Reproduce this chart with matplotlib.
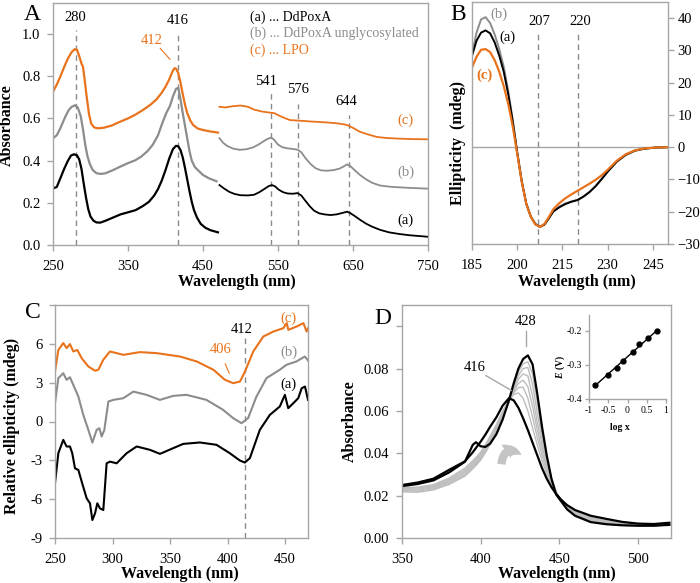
import numpy as np
import matplotlib
matplotlib.use("Agg")
import matplotlib.pyplot as plt
from matplotlib.patches import FancyArrowPatch

plt.rcParams['font.family'] = ['Liberation Serif', 'DejaVu Serif']
plt.rcParams['font.size'] = 10.5
plt.rcParams['mathtext.fontset'] = 'custom'
plt.rcParams['mathtext.rm'] = 'Liberation Serif'
plt.rcParams['mathtext.it'] = 'Liberation Serif:italic:bold'

ORANGE = '#E8731C'
GRAY = '#8C8C8C'
LIGHT = '#BDBDBD'
FRAME = '#A6A6A6'
DASH = '#8A8A8A'

# ---------------- panel A : UV-vis spectra ----------------
a_uv_wl_a = [250, 255, 260, 265, 270, 274, 278, 282, 285, 288, 291, 294, 297, 300, 304, 308, 313, 320,
             330, 340, 350, 360, 370, 378, 385, 390, 395, 400, 405, 410, 414, 417, 420, 423, 426, 429,
             432, 435, 438, 442, 447, 453, 460, 470]
a_uv_a = [.268, .275, .318, .362, .400, .424, .430, .425, .405, .360, .290, .225, .170, .135, .115, .107,
          .106, .115, .130, .145, .155, .165, .185, .205, .235, .265, .305, .355, .410, .455, .470, .468,
          .450, .415, .365, .310, .255, .205, .165, .130, .100, .082, .070, .060]
a_uv_wl_b = [250, 255, 260, 266, 271, 275, 279, 283, 287, 290, 293, 296, 299, 303, 308, 314, 320, 330,
             340, 350, 360, 368, 376, 383, 390, 396, 401, 406, 410, 414, 417, 420, 423, 426, 429, 432,
             435, 439, 444, 450, 458, 468]
a_uv_b = [.506, .520, .555, .605, .640, .655, .662, .652, .610, .548, .475, .420, .385, .355, .340, .337,
          .340, .355, .372, .388, .402, .420, .445, .475, .520, .580, .625, .660, .705, .740, .745, .690,
          .625, .565, .505, .445, .400, .370, .352, .332, .316, .302]
a_uv_wl_c = [250, 255, 260, 265, 270, 275, 279, 282, 285, 288, 290, 292, 295, 298, 301, 305, 310, 318,
             328, 340, 350, 360, 370, 380, 388, 395, 400, 405, 409, 412, 414, 417, 420, 423, 426, 429,
             433, 437, 443, 450, 460, 470]
a_uv_c = [.727, .760, .800, .845, .885, .915, .928, .925, .895, .860, .845, .790, .700, .620, .575, .557,
          .553, .556, .566, .585, .600, .618, .640, .665, .690, .722, .750, .785, .820, .838, .836, .815,
          .770, .715, .665, .625, .590, .568, .552, .545, .538, .533]

a_vis_wl_a = [472, 478, 485, 492, 500, 510, 518, 525, 532, 538, 542, 546, 551, 557, 563, 570, 576, 581,
              586, 592, 598, 605, 612, 620, 628, 636, 642, 646, 652, 660, 668, 676, 686, 698, 712, 726,
              740, 750]
a_vis_a = [.284, .268, .252, .242, .236, .235, .238, .250, .266, .280, .284, .278, .262, .250, .244, .243,
           .246, .235, .212, .185, .163, .150, .145, .142, .145, .152, .158, .152, .138, .118, .100, .086,
           .072, .060, .052, .046, .042, .039]
a_vis_wl_b = [472, 477, 482, 490, 499, 508, 517, 524, 530, 536, 541, 545, 550, 556, 563, 570, 576, 581,
              587, 594, 600, 607, 615, 624, 632, 638, 642, 647, 653, 660, 668, 676, 686, 700, 713, 730, 750]
a_vis_b = [.506, .484, .470, .457, .451, .454, .463, .476, .490, .503, .509, .498, .476, .463, .458, .455,
           .452, .440, .410, .382, .364, .354, .352, .355, .362, .373, .382, .372, .352, .330, .310, .294,
           .282, .276, .273, .270, .267]
a_vis_wl_c = [472, 480, 490, 500, 510, 518, 528, 538, 545, 551, 558, 566, 575, 584, 595, 606, 618, 628,
              638, 644, 650, 659, 670, 682, 695, 712, 730, 750]
a_vis_c = [.655, .652, .658, .661, .655, .642, .633, .628, .625, .614, .603, .592, .590, .588, .585, .583,
           .580, .577, .572, .566, .555, .537, .524, .512, .507, .504, .502, .501]

a_marks = [280, 416, 541, 576, 644]
a_mark_tops = [1.02, 1.015, 0.72, 0.668, 0.616]

# ---------------- panel B : far-UV CD ----------------
b_wl = [185, 186.5, 188, 189.5, 191, 192.5, 194, 195.5, 197, 198.5, 200, 201.5, 203, 204.5, 206, 207.5,
        209, 210.5, 212, 214, 216, 218, 220, 222, 224, 226, 228, 230, 233, 236, 239, 242, 246, 250]
b_cd_a = [28.3, 33.0, 35.5, 36.2, 35.3, 32.5, 28.5, 23.5, 16.5, 8.0, -1.7, -10.6, -17.5, -21.5, -23.8,
          -24.7, -24.0, -22.0, -19.9, -18.6, -17.6, -16.9, -16.4, -15.3, -13.9, -12.1, -9.9, -7.6, -4.5,
          -2.4, -1.1, -0.5, -0.1, 0.0]
b_cd_b = [28.8, 35.5, 39.6, 40.3, 38.5, 35.0, 30.5, 25.0, 17.5, 8.5, -1.5, -10.5, -17.5, -21.5, -23.8,
          -24.7, -24.0, -22.0, -19.8, -18.4, -17.4, -16.8, -16.3, -15.2, -13.8, -12.0, -9.8, -7.5, -4.4,
          -2.3, -1.0, -0.4, -0.1, 0.0]
b_cd_c = [24.7, 28.0, 30.2, 30.4, 29.5, 27.0, 23.5, 19.0, 13.5, 6.5, -2.0, -10.8, -17.6, -21.6, -23.9,
          -24.7, -23.8, -21.6, -19.2, -17.3, -15.8, -14.6, -13.5, -12.4, -11.3, -10.1, -8.7, -7.0, -4.2,
          -2.2, -1.0, -0.4, -0.1, 0.0]
b_marks = [207, 220]

# ---------------- panel C : near-UV/vis CD ----------------
c_wl_a = [250, 252.9, 257.2, 260.1, 263, 265, 267.4, 270.3, 273.2, 277.5, 280.4, 282.5, 284.8, 286.8,
          289.1, 292, 294.9, 297.8, 303.6, 312.3, 321, 332.6, 341.3, 352.8, 361.5, 376, 390.4, 402,
          410.7, 415, 419.4, 428.1, 436.8, 445.5, 449.9, 452.8, 457.2, 461.5, 464.5, 467.4, 470]
c_cd_a = [-4.77, -2.45, -1.42, -1.93, -1.93, -2.45, -3.62, -3.74, -4.64, -5.93, -6.32, -7.61, -7.1,
          -6.32, -6.71, -6.84, -3.23, -3.10, -3.23, -2.45, -1.93, -2.19, -2.5, -2.06, -1.73, -1.62,
          -1.80, -2.45, -3.01, -3.17, -2.84, -0.65, 0.51, 1.16, 2.06, 1.03, 1.41, 1.80, 2.57, 2.7, 1.67]
c_wl_b = [250, 252.9, 257.2, 260.1, 263, 265.9, 270.3, 274.6, 279, 282.5, 286.2, 288.6, 290.6, 292.9,
          296.4, 300.7, 309.4, 318.1, 329.6, 341.2, 352.8, 364.3, 381.7, 396.2, 404.9, 412.2, 417.9,
          425.2, 433.9, 445.5, 451.3, 460, 467.2, 470]
c_cd_b = [1.41, 3.35, 3.73, 3.22, 3.42, 2.83, 1.93, 0.51, -0.65, -1.63, -0.65, -0.52, -1.16, -0.65,
          1.54, 1.67, 1.80, 2.31, 2.06, 1.67, 1.98, 2.06, 1.67, 0.90, 0.26, -0.13, 0.26, 1.93, 3.35,
          4.0, 4.38, 4.64, 5.02, 4.72]
c_wl_c = [250, 252.9, 257.2, 260.1, 263, 265.9, 269.4, 273.2, 279, 284.8, 287.7, 292, 297.8, 303.6,
          309.4, 323.9, 338.4, 358.7, 373.2, 387.7, 397.8, 405, 410.9, 415.2, 422.4, 431.2, 439.9,
          448.6, 451.5, 452.9, 460.2, 466, 468.8, 470]
c_cd_c = [3.86, 5.53, 6.06, 5.67, 5.98, 5.41, 5.53, 4.89, 4.25, 3.92, 4.0, 4.77, 5.41, 5.28, 5.15,
          5.36, 5.28, 5.02, 4.64, 4.0, 3.22, 2.96, 3.09, 3.86, 5.41, 6.57, 6.95, 7.21, 7.6, 7.08, 7.34,
          7.6, 6.95, 7.2]

# ---------------- panel D : redox titration ----------------
d_wl = [350, 360, 370, 380, 390, 395, 397, 400, 403, 406, 410, 414, 418, 421, 424, 427, 430, 433, 436,
        439, 442, 445, 448, 451, 455, 460, 470, 480, 490, 500, 510, 520]
d_ox = [.0250, .0262, .0280, .0322, .0362, .0405, .0425, .0455, .0488, .0525, .0570, .0625, .0660,
        .0650, .0615, .0565, .0510, .0450, .0390, .0330, .0280, .0240, .0208, .0182, .0155, .0132,
        .0105, .0090, .0076, .0068, .0066, .0072]
d_red = [.0245, .0255, .0272, .0310, .0360, .0440, .0452, .0433, .0430, .0445, .0490, .0560, .0650,
         .0730, .0800, .0845, .0862, .0820, .0680, .0525, .0390, .0280, .0205, .0175, .0135, .0105,
         .0075, .0065, .0060, .0058, .0058, .0062]
d_mid1 = [.0238, .0240, .0252, .0283, .0330, .0365, .0380, .0405, .0440, .0480, .0535, .0600, .0650,
          .0678, .0685, .0660, .0600, .0520, .0440, .0365, .0300, .0250, .0210, .0180, .0150, .0125,
          .0098, .0082, .0070, .0064, .0062, .0068]
d_mid2 = [.0234, .0236, .0247, .0277, .0322, .0357, .0372, .0398, .0432, .0472, .0528, .0594, .0648,
          .0686, .0710, .0712, .0660, .0570, .0475, .0390, .0315, .0258, .0212, .0180, .0147, .0121,
          .0093, .0078, .0067, .0062, .0060, .0066]
d_mid3 = [.0230, .0231, .0242, .0271, .0314, .0349, .0364, .0390, .0424, .0464, .0521, .0588, .0646,
          .0693, .0730, .0745, .0715, .0620, .0510, .0415, .0330, .0265, .0214, .0180, .0144, .0117,
          .0088, .0074, .0065, .0060, .0059, .0065]
d_mid4 = [.0226, .0226, .0237, .0265, .0306, .0341, .0356, .0382, .0416, .0456, .0514, .0582, .0644,
          .0700, .0750, .0775, .0765, .0670, .0545, .0440, .0345, .0272, .0216, .0179, .0141, .0113,
          .0084, .0071, .0063, .0059, .0058, .0064]
d_mid5 = [.0222, .0221, .0232, .0259, .0298, .0333, .0348, .0374, .0408, .0448, .0507, .0576, .0642,
          .0707, .0768, .0800, .0805, .0725, .0590, .0465, .0360, .0278, .0217, .0178, .0139, .0110,
          .0080, .0068, .0061, .0058, .0057, .0063]
d_mid6 = [.0218, .0216, .0227, .0253, .0292, .0327, .0342, .0368, .0402, .0442, .0500, .0570, .0640,
          .0714, .0785, .0822, .0832, .0775, .0640, .0495, .0375, .0284, .0218, .0177, .0137, .0107,
          .0077, .0066, .0060, .0057, .0057, .0063]

# inset: Nernst plot
ins_logx = [-0.844, -0.515, -0.264, -0.108, 0.134, 0.307, 0.541, 0.775]
ins_E = [-0.358, -0.329, -0.308, -0.288, -0.261, -0.239, -0.220, -0.200]


def style(ax, labelsize=10.5, length=4, pad=5):
    for s in ax.spines.values():
        s.set_color(FRAME)
        s.set_linewidth(1)
    ax.tick_params(colors=FRAME, labelcolor='black', direction='out', length=length, width=1,
                   labelsize=labelsize, pad=pad)


W, H = 700, 583
fig = plt.figure(figsize=(7, 5.83), dpi=100)


def box(l, r, t, b):
    return [l / W, 1 - b / H, (r - l) / W, (b - t) / H]


def ftext(x, y, s, **kw):
    fig.text(x / W, 1 - y / H, s, ha='center', va='center', **kw)


# ---- A ----
axA = fig.add_axes(box(53, 428, 3, 245))
style(axA)
axA.tick_params(axis='x', pad=7)
for x, top in zip(a_marks, a_mark_tops):
    axA.plot([x, x], [0, top], ls=(0, (4, 3)), color=DASH, lw=1)
axA.plot(a_uv_wl_a, a_uv_a, color='black', lw=1.6)
axA.plot(a_uv_wl_b, a_uv_b, color=GRAY, lw=1.6)
axA.plot(a_uv_wl_c, a_uv_c, color=ORANGE, lw=1.6)
axA.plot(a_vis_wl_a, a_vis_a, color='black', lw=1.3)
axA.plot(a_vis_wl_b, a_vis_b, color=GRAY, lw=1.3)
axA.plot(a_vis_wl_c, a_vis_c, color=ORANGE, lw=1.3)
axA.set_xlim(250, 750)
axA.set_ylim(0, 1.147)
axA.set_xticks([250, 350, 450, 550, 650, 750])
axA.set_yticks(np.arange(0, 1.01, 0.2))
axA.yaxis.set_major_formatter(matplotlib.ticker.FormatStrFormatter('%.1f'))
axA.text(280, 1.08, '280', ha='center', va='center')
axA.text(416, 1.066, '416', ha='center', va='center')
axA.text(381, 0.97, '412', ha='center', va='center', color=ORANGE)
axA.plot([393, 406], [0.932, 0.88], color=ORANGE, lw=0.8)
axA.text(534.5, 0.774, '541', ha='center', va='center')
axA.text(576, 0.738, '576', ha='center', va='center')
axA.text(641.6, 0.682, '644', ha='center', va='center')
axA.text(513, 1.08, '(a) ... DdPoxA', ha='left', va='center', color='black', fontsize=10)
axA.text(513, 1.003, '(b) ... DdPoxA unglycosylated', ha='left', va='center', color=GRAY, fontsize=10)
axA.text(513, 0.924, '(c) ... LPO', ha='left', va='center', color=ORANGE, fontsize=10)
axA.text(720, 0.589, '(c)', ha='center', va='center', color=ORANGE)
axA.text(720, 0.347, '(b)', ha='center', va='center', color=GRAY)
axA.text(720, 0.115, '(a)', ha='center', va='center', color='black')

# ---- B ----
axB = fig.add_axes(box(472, 668, 2, 244))
style(axB)
axB.yaxis.tick_right()
axB.tick_params(axis='y', pad=3)
axB.tick_params(axis='x', pad=7)
axB.axhline(0, color=FRAME, lw=1)
for x in b_marks:
    axB.plot([x, x], [-30, 35.5], ls=(0, (4, 3)), color=DASH, lw=1)
axB.plot(b_wl, b_cd_b, color=GRAY, lw=1.4)
axB.plot(b_wl, b_cd_a, color='black', lw=1.4)
axB.plot(b_wl, b_cd_c, color=ORANGE, lw=1.6)
axB.set_xlim(185, 250)
axB.set_ylim(-30, 45)
axB.set_xticks([185, 200, 215, 230, 245])
axB.set_yticks(np.arange(-30, 41, 10))
axB.text(207.4, 39.1, '207', ha='center', va='center')
axB.text(220.8, 39.1, '220', ha='center', va='center')
axB.text(194, 41.2, '(b)', ha='center', va='center', color=GRAY)
axB.text(196.7, 34.2, '(a)', ha='center', va='center', color='black')
axB.text(189.2, 22.4, '(c)', ha='center', va='center', color=ORANGE, fontweight='bold')

# ---- C ----
axC = fig.add_axes(box(55, 308, 305, 538))
style(axC)
axC.tick_params(axis='x', pad=7)
axC.plot([415, 415], [-9, 6.6], ls=(0, (4, 3)), color=DASH, lw=1)
axC.plot(c_wl_a, c_cd_a, color='black', lw=1.5)
axC.plot(c_wl_b, c_cd_b, color=GRAY, lw=1.5)
axC.plot(c_wl_c, c_cd_c, color=ORANGE, lw=1.5)
axC.set_xlim(250, 470)
axC.set_ylim(-9, 9)
axC.set_xticks([250, 300, 350, 400, 450])
axC.set_yticks([-9, -6, -3, 0, 3, 6, 9])
axC.set_yticklabels(['-9', '-6', '-3', '0', '3', '6', ''])
axC.text(453, 8.0, '(c)', ha='center', va='center', color=ORANGE)
axC.text(453, 5.33, '(b)', ha='center', va='center', color=GRAY)
axC.text(453, 2.88, '(a)', ha='center', va='center', color='black')
axC.text(412, 7.14, '412', ha='center', va='center')
axC.text(393.7, 5.59, '406', ha='center', va='center', color=ORANGE)
axC.plot([398, 401.5], [4.45, 3.73], color=ORANGE, lw=0.8)

# ---- D ----
axD = fig.add_axes(box(402, 671, 305, 538))
style(axD)
axD.tick_params(axis='x', pad=7)
for g in [d_mid1, d_mid2, d_mid3, d_mid4, d_mid5, d_mid6]:
    axD.plot(d_wl, g, color=LIGHT, lw=1.0)
axD.plot(d_wl, d_ox, color='black', lw=1.6)
axD.plot(d_wl, d_red, color='black', lw=1.6)
axD.set_xlim(350, 521)
axD.set_ylim(0, 0.11)
axD.set_xticks([350, 400, 450, 500])
axD.set_yticks([0, 0.02, 0.04, 0.06, 0.08, 0.10])
axD.set_yticklabels(['0.00', '0.02', '0.04', '0.06', '0.08', ''])
axD.text(428.8, 0.102, '428', ha='center', va='center')
axD.plot([428.8, 428.8], [0.0977, 0.0906], color=FRAME, lw=1)
axD.text(396.5, 0.0803, '416', ha='center', va='center')
axD.plot([403.3, 419.4], [0.0767, 0.0697], color=FRAME, lw=1)
# curved arrow marking the direction of the spectral shift
arrow = FancyArrowPatch((413.0, 0.0335), (427.5, 0.0385), connectionstyle='arc3,rad=-0.9',
                        arrowstyle='simple,head_width=1.3,head_length=1.1,tail_width=0.6',
                        mutation_scale=10, facecolor='#C4C4C4', edgecolor='none')
axD.add_patch(arrow)

# inset
axI = fig.add_axes(box(589, 666, 315, 399))
style(axI, labelsize=7, length=3, pad=2)
axI.spines['top'].set_visible(False)
axI.spines['right'].set_visible(False)
axI.patch.set_alpha(0)
fit = np.polyfit(ins_logx, ins_E, 1)
xs = np.array([min(ins_logx), max(ins_logx)])
axI.plot(xs, np.polyval(fit, xs), color='black', lw=1)
axI.plot(ins_logx, ins_E, 'o', color='black', ms=3.5)
axI.set_xlim(-1, 1)
axI.set_ylim(-0.4, -0.153)
axI.set_xticks([-1, -0.5, 0, 0.5, 1])
axI.set_xticklabels(['-1', '-0.5', '0', '0.5', '1'])
axI.set_yticks([-0.4, -0.3, -0.2])
axI.set_yticklabels(['-0.4', '-0.3', '-0.2'])

# axis labels & panel letters
bold = dict(fontweight='bold', fontsize=11.5)
ftext(237, 282, 'Wavelength (nm)', **bold)
ftext(577, 282, 'Wavelength (nm)', **bold)
ftext(180, 574, 'Wavelength (nm)', **bold)
ftext(557, 574, 'Wavelength (nm)', **bold)
ftext(7, 125, 'Absorbance', rotation=90, **bold)
ftext(457.5, 143, 'Ellipticity  (mdeg)', rotation=90, **bold)
ftext(12, 426, 'Relative ellipticity (mdeg)', rotation=90, **bold)
ftext(350, 421, 'Absorbance', rotation=90, **bold)
ftext(560, 367, r'$E$ (V)', rotation=90, fontsize=7, fontweight='bold')
ftext(620, 427, 'log x', fontsize=7, fontweight='bold')
for letter, x, y in [('A', 32, 14), ('B', 458, 14), ('C', 33, 312), ('D', 383, 318)]:
    ftext(x, y, letter, fontsize=17)

fig.savefig('out.png', dpi=100)
